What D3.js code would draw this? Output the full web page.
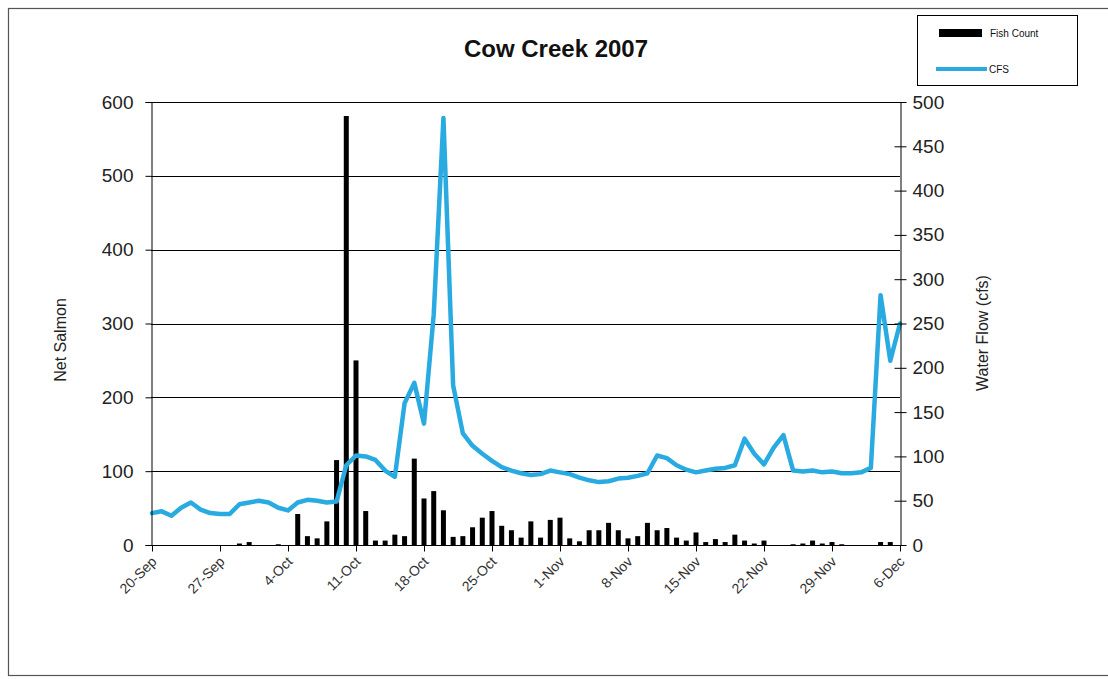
<!DOCTYPE html>
<html>
<head>
<meta charset="utf-8">
<script src="https://cdn.jsdelivr.net/npm/d3@7/dist/d3.min.js"></script>
<style>
  html, body { margin: 0; padding: 0; background: #fff; }
  svg { display: block; }
</style>
</head>
<body>
<svg id="chart" width="1108" height="679"></svg>
<script>
// ---- data ----
const startDate = "2007-09-20";
const fishCount = [
  0, 0, 0, 0, 0, 0, 0, 0, 0, 2,
  4, 0, 0, 1, 0, 42, 12, 9, 32, 115,
  581, 250, 46, 6, 6, 14, 12, 117, 63, 73,
  47, 11, 12, 24, 37, 46, 26, 20, 10, 32,
  10, 34, 37, 9, 5, 20, 20, 30, 20, 9,
  12, 30, 20, 23, 10, 6, 17, 4, 8, 4,
  14, 6, 2, 6, 0, 0, 1, 2, 6, 2,
  4, 1, 0, 0, 0, 4, 4, 0
];
const cfs = [
  36, 38, 33, 42, 48, 40, 36, 35, 35, 46,
  48, 50, 48, 42, 39, 48, 51, 50, 48, 49,
  90, 101, 100, 96, 84, 77, 160, 183, 137, 260,
  482, 180, 126, 112, 103, 95, 88, 84, 81, 79,
  80, 84, 82, 80, 76, 73, 71, 72, 75, 76,
  78, 81, 101, 98, 90, 85, 82, 84, 86, 87,
  90, 120, 103, 91, 110, 124, 84, 83, 84, 82,
  83, 81, 81, 82, 87, 282, 208, 250
];
const xTickLabels = ["20-Sep","27-Sep","4-Oct","11-Oct","18-Oct","25-Oct","1-Nov","8-Nov","15-Nov","22-Nov","29-Nov","6-Dec"];
const leftTicks = [0, 100, 200, 300, 400, 500, 600];
const rightTicks = [0, 50, 100, 150, 200, 250, 300, 350, 400, 450, 500];
const titleText = "Cow Creek 2007";
const seriesNames = ["Fish Count", "CFS"];

// ---- build ----
const parse = d3.timeParse("%Y-%m-%d");
const t0 = parse(startDate);
const dates = fishCount.map((_, i) => d3.timeDay.offset(t0, i));
const parseTick = d3.timeParse("%d-%b-%Y");
const tickDates = xTickLabels.map(s => parseTick(s + "-2007"));

const svg = d3.select("#chart");
const plot = { left: 151, right: 900, top: 102, bottom: 545 };
const font = "'Liberation Sans', Arial, sans-serif";
const blue = "#29AAE1";

svg.append("rect").attr("x", 0).attr("y", 0).attr("width", 1108).attr("height", 679).attr("fill", "#fff");
svg.append("rect").attr("x", 8.5).attr("y", 8.5).attr("width", 1104).attr("height", 667)
  .attr("fill", "none").attr("stroke", "#555").attr("stroke-width", 1.2);

const x = d3.scaleTime().domain([dates[0], dates[dates.length - 1]]).range([plot.left + 1, plot.right]);
const yL = d3.scaleLinear().domain([0, 600]).range([plot.bottom, plot.top]);
const yR = d3.scaleLinear().domain([0, 500]).range([plot.bottom, plot.top]);

// gridlines
svg.append("g").selectAll("line").data(leftTicks.slice(1)).join("line")
  .attr("x1", plot.left).attr("x2", plot.right)
  .attr("y1", d => Math.round(yL(d)) + 0.5).attr("y2", d => Math.round(yL(d)) + 0.5)
  .attr("stroke", "#000").attr("stroke-width", 1);

// bars
const bw = 5;
svg.append("g").selectAll("rect").data(fishCount.map((v, i) => ({ d: dates[i], v })).filter(o => o.v > 0)).join("rect")
  .attr("x", o => x(o.d) - bw / 2)
  .attr("y", o => yL(o.v))
  .attr("width", bw)
  .attr("height", o => plot.bottom - yL(o.v))
  .attr("fill", "#000");

// line
const line = d3.line().x((v, i) => x(dates[i])).y(v => yR(v));
svg.append("path").datum(cfs).attr("d", line)
  .attr("fill", "none").attr("stroke", blue).attr("stroke-width", 4.5)
  .attr("stroke-linejoin", "round").attr("stroke-linecap", "round");

// left axis
const gL = svg.append("g").attr("transform", `translate(${plot.left + 0.5},0)`)
  .call(d3.axisLeft(yL).tickValues(leftTicks).tickSize(6).tickPadding(12));
gL.select(".domain").attr("stroke", "#000");
gL.selectAll(".tick line").attr("stroke", "#000");
gL.selectAll("text").attr("font-family", font).attr("font-size", 19).attr("fill", "#222");

// right axis (ticks crossing)
const gR = svg.append("g").attr("transform", `translate(${plot.right + 0.5},0)`)
  .call(d3.axisRight(yR).tickValues(rightTicks).tickSize(0).tickPadding(12));
gR.select(".domain").attr("stroke", "#000");
gR.selectAll(".tick line").attr("x1", -6).attr("x2", 6).attr("stroke", "#000");
gR.selectAll("text").attr("font-family", font).attr("font-size", 19).attr("fill", "#222");

// bottom axis
const gB = svg.append("g").attr("transform", `translate(0,${plot.bottom + 0.5})`)
  .call(d3.axisBottom(x).tickValues(tickDates).tickSize(6).tickFormat((d, i) => xTickLabels[i]));
gB.select(".domain").attr("stroke", "#000").attr("d", `M${plot.left},0H${plot.right + 1}`);
gB.selectAll(".tick line").attr("stroke", "#000");
gB.selectAll("text").attr("font-family", font).attr("font-size", 14).attr("fill", "#333")
  .attr("text-anchor", "end").attr("dy", 0).attr("y", 0)
  .attr("transform", "translate(5,17) rotate(-45)");

// title
svg.append("text").attr("x", 556).attr("y", 57).attr("text-anchor", "middle")
  .attr("font-family", font).attr("font-weight", "bold").attr("font-size", 24).attr("fill", "#111")
  .text(titleText);

// axis titles
svg.append("text").attr("transform", "translate(66,340) rotate(-90)").attr("text-anchor", "middle")
  .attr("font-family", font).attr("font-size", 16).attr("fill", "#222").text("Net Salmon");
svg.append("text").attr("transform", "translate(988,333) rotate(-90)").attr("text-anchor", "middle")
  .attr("font-family", font).attr("font-size", 16).attr("fill", "#222").text("Water Flow (cfs)");

// legend
const lg = svg.append("g");
lg.append("rect").attr("x", 917.5).attr("y", 15.5).attr("width", 160).attr("height", 70)
  .attr("fill", "#fff").attr("stroke", "#000").attr("stroke-width", 1);
lg.append("rect").attr("x", 939).attr("y", 29).attr("width", 43).attr("height", 8).attr("fill", "#000");
lg.append("text").attr("x", 990).attr("y", 37).attr("font-family", font).attr("font-size", 10).attr("fill", "#111").text(seriesNames[0]);
lg.append("line").attr("x1", 936).attr("x2", 987).attr("y1", 69).attr("y2", 69)
  .attr("stroke", blue).attr("stroke-width", 4);
lg.append("text").attr("x", 989).attr("y", 72.5).attr("font-family", font).attr("font-size", 10).attr("fill", "#111").text(seriesNames[1]);
</script>
</body>
</html>
